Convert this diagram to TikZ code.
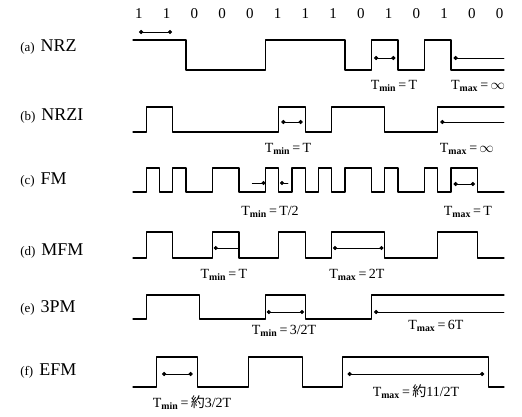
\documentclass[tikz,border=0pt]{standalone}
\usepackage{fontspec}
\setmainfont{Liberation Serif}
\newfontfamily\cjk{Noto Sans CJK JP}
\usetikzlibrary{arrows.meta}
\def\Tmin{T$_{\mathbf{min}}$}
\def\Tmax{T$_{\mathbf{max}}$}
\def\rowname#1#2{\fontsize{13}{15}\selectfont(#1)\hspace{6pt}\fontsize{18}{20}\selectfont #2}
\begin{document}
\begin{tikzpicture}[x=26.5pt, y=-1pt, line join=round, line cap=round, >={Circle[length=4pt]},
		sig/.style={line width=1.1pt},
		tspan/.style={line width=0.8pt},
		lbl/.style={anchor=west, inner sep=0pt},
		val/.style={inner sep=0pt, font=\fontsize{14}{16}\selectfont}]
	\def\xmin{-5.0189} \def\xmax{14.6792}
	\useasboundingbox (\xmin,0) rectangle (\xmax,416);
	% data bits
	\foreach \b [count=\i from 0] in {1,1,0,0,0,1,1,1,0,1,0,1,0,0}
		\node[inner sep=0pt, font=\fontsize{15}{17}\selectfont] (bit\i) at ({0.226+1.047*\i},14) {\b};
	% row labels
	\node[lbl] (la) at (-4.26,47) {\rowname{a}{NRZ}};
	\node[lbl] (lb) at (-4.26,116) {\rowname{b}{NRZI}};
	\node[lbl] (lc) at (-4.26,180) {\rowname{c}{FM}};
	\node[lbl] (ld) at (-4.26,251) {\rowname{d}{MFM}};
	\node[lbl] (le) at (-4.26,308) {\rowname{e}{3PM}};
	\node[lbl] (lf) at (-4.26,371) {\rowname{f}{EFM}};
	% (a) NRZ
	\draw[sig] (0,40) -| (2,70) -| (5,40) -| (8,70) -| (9,40) -| (10,70) -| (11,40) -| (12,70) -- (14,70);
	\draw[tspan,<->] (0.23,32) -- (1.47,32);
	\draw[tspan,<->] (9.1,58) -- (9.9,58);
	\draw[tspan,<-] (12.1,58) -- (14,58);
	\node[val] (ta1) at (9.85,86) {\Tmin\,=\,T};
	\node[val] (ta2) at (13.02,86) {\Tmax\,=\,$\infty$};
	% (b) NRZI
	\draw[sig] (0,132) -| (0.5,107) -| (1.5,132) -| (5.5,107) -| (6.5,132) -| (7.5,107) -| (9.5,132) -| (11.5,107) -- (14,107);
	\draw[tspan,<->] (5.6,122) -- (6.4,122);
	\draw[tspan,<-] (11.6,122) -- (14,122);
	\node[val] (tb1) at (5.85,149) {\Tmin\,=\,T};
	\node[val] (tb2) at (12.6,149) {\Tmax\,=\,$\infty$};
	% (c) FM
	\draw[sig] (0,192) -| (0.5,168) -| (1,192) -| (1.5,168) -| (2,192) -| (3,168) -| (4,192) -| (5,168) -| (5.5,192) -| (6,168) -| (6.5,192) -| (7,168) -| (7.5,192) -| (8,168) -| (9,192) -| (9.5,168) -| (10,192) -| (11,168) -| (11.5,192) -| (12,168) -| (13,192) -- (14,192);
	\draw[tspan,->] (4.5,183) -- (5,183);
	\draw[tspan,<-] (5.55,183) -- (5.85,183);
	\draw[tspan,<->] (12.1,184) -- (12.9,184);
	\node[val] (tc1) at (5.17,212) {\Tmin\,=\,T/2};
	\node[val] (tc2) at (12.64,212) {\Tmax\,=\,T};
	% (d) MFM
	\draw[sig] (0,258) -| (0.5,232) -| (1.5,258) -| (3,232) -| (4,258) -| (5.5,232) -| (6.5,258) -| (7.5,232) -| (9.5,258) -| (11.5,232) -| (13,258) -- (14,258);
	\draw[tspan,<-] (3.05,248) -- (3.95,248);
	\draw[tspan,<->] (7.55,248) -- (9.45,248);
	\node[val] (td1) at (3.43,275) {\Tmin\,=\,T};
	\node[val] (td2) at (8.45,275) {\Tmax\,=\,2T};
	% (e) 3PM
	\draw[sig] (0,319) -| (0.5,295) -| (2.5,319) -| (5,295) -| (6.5,319) -| (9,295) -- (14,295);
	\draw[tspan,<->] (5.05,312) -- (6.45,312);
	\draw[tspan,<-] (9.1,312) -- (14,312);
	\node[val] (te1) at (5.7,331) {\Tmin\,=\,3/2T};
	\node[val] (te2) at (11.43,326) {\Tmax\,=\,6T};
	% (f) EFM
	\draw[sig] (0,387) -| (0.9,357) -| (2.45,387) -| (4.35,357) -| (6.4,387) -| (7.9,357) -| (13.4,387) -- (14,387);
	\draw[tspan,<->] (1.1,374) -- (2.25,374);
	\draw[tspan,<->] (8.1,374) -- (13.25,374);
	\node[val] (tf1) at (2.23,403) {\Tmin\,=\,{\cjk 約}3/2T};
	\node[val] (tf2) at (10.68,392) {\Tmax\,=\,{\cjk 約}11/2T};
\end{tikzpicture}
\end{document}
